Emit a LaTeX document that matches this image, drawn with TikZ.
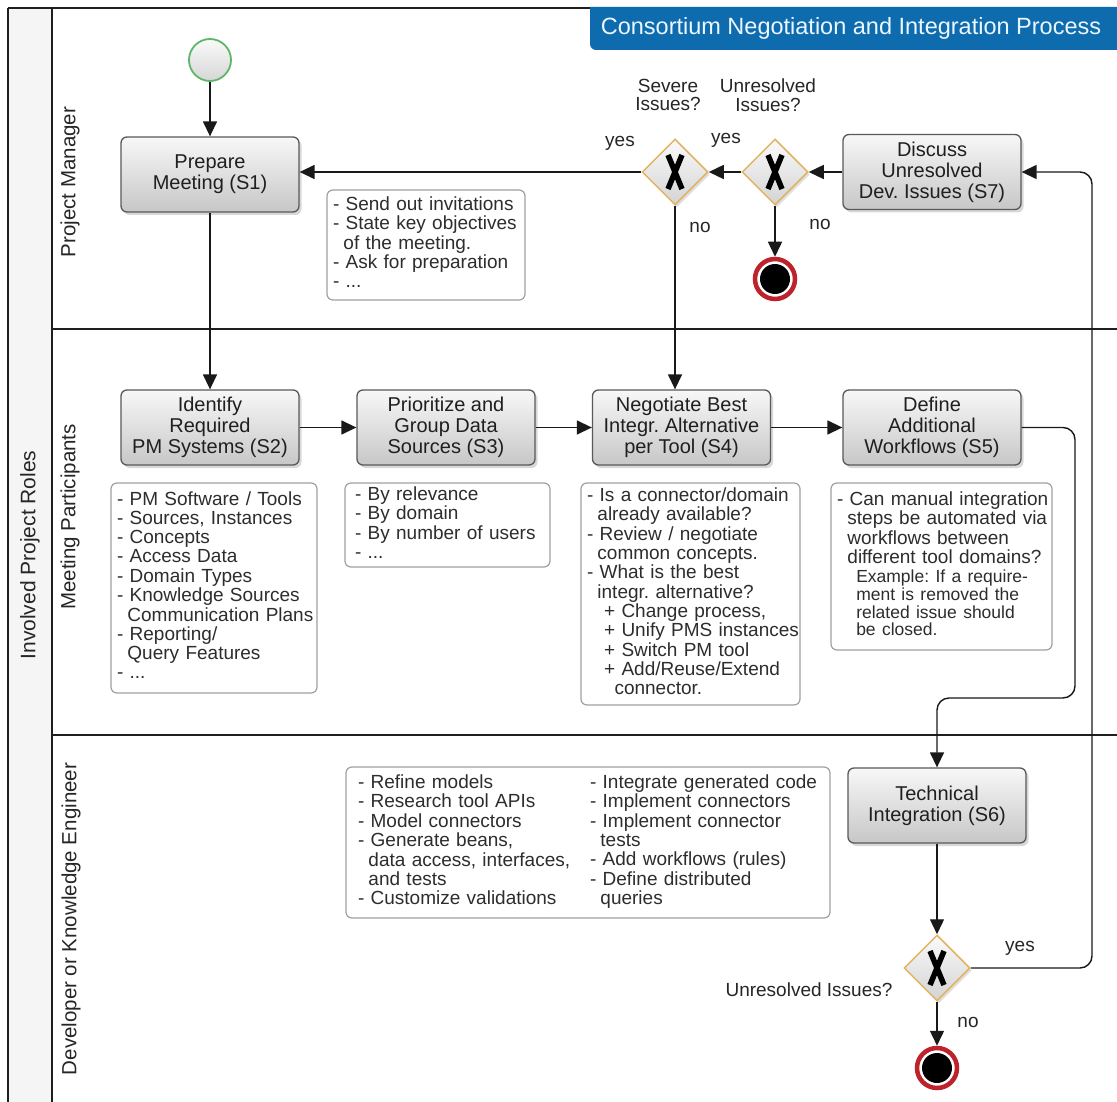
\documentclass[tikz,border=0pt]{standalone}
\usepackage{fontspec}
\setmainfont{Liberation Sans}
\usetikzlibrary{arrows.meta,shadows,shapes.geometric}

\definecolor{titleblue}{RGB}{14,108,174}
\definecolor{titletext}{RGB}{236,246,255}
\definecolor{gateedge}{RGB}{224,180,96}
\definecolor{startedge}{RGB}{96,182,104}
\definecolor{endedge}{RGB}{190,34,42}
\definecolor{noteedge}{RGB}{160,160,160}
\definecolor{notetext}{RGB}{45,45,45}
\definecolor{laneline}{RGB}{30,30,30}

\newcommand{\fsz}[2]{\fontsize{#1pt}{#2pt}\selectfont}
\newcommand{\cont}{\hspace*{0.55em}}
\newcommand{\subit}{\hspace*{0.9em}}
\newcommand{\exm}{\fsz{17.5}{17.5}\hspace*{1.1em}}

\frenchspacing

\begin{document}
\begin{tikzpicture}[x=1pt,y=-1pt,
  taskbox/.style={rectangle, rounded corners=6pt, draw=black!65, line width=1.3pt,
    top color=black!3, bottom color=black!22, minimum width=178pt, minimum height=75pt,
    align=center, font=\fsz{20}{21}, text=black!88, inner sep=2pt,
    drop shadow={opacity=0.3, shadow xshift=2.5pt, shadow yshift=-3pt}},
  notebox/.style={rectangle, rounded corners=6pt, draw=noteedge, line width=1.2pt,
    fill=white, align=left, font=\fsz{19}{19}, text=notetext, inner xsep=6pt, inner ysep=0pt},
  gatebox/.style={diamond, aspect=1, minimum width=66pt, minimum height=66pt, inner sep=0pt,
    draw=gateedge, line width=1.5pt, top color=black!2, bottom color=black!17,
    drop shadow={opacity=0.25, shadow xshift=2pt, shadow yshift=-2.5pt},
    path picture={\draw[line width=5.5pt, black, shift={(path picture bounding box.center)}]
      (-7,-17) -- (7,17) (7,-17) -- (-7,17);}},
  startev/.style={circle, minimum size=42pt, inner sep=0pt, draw=startedge, line width=1.8pt,
    top color=black!2, bottom color=black!16},
  endev/.style={circle, minimum size=40pt, inner sep=0pt, draw=endedge, line width=4.5pt,
    fill=white, drop shadow={opacity=0.25, shadow xshift=1.5pt, shadow yshift=-2pt},
    path picture={\fill[black] (path picture bounding box.center) circle[radius=15pt];}},
  flowline/.style={draw=black!90, line width=1.4pt, -{Triangle[length=15pt,width=14pt]}},
  lane/.style={draw=laneline, line width=1.4pt},
  lbl/.style={font=\fsz{19}{18.5}, text=black!85, align=center, inner sep=0pt},
  lanelabel/.style={rotate=90, font=\fsz{20.5}{22}, text=black!85, inner sep=0pt}
]
\useasboundingbox (0,0) rectangle (1117,1102);
\fill[white] (0,0) rectangle (1117,1102);

% pool and lanes
\fill[black!4] (8,8) rectangle (52,1102);
\draw[lane, line width=1.8pt] (8,8) -- (8,1102);
\draw[lane] (8,8) -- (1117,8);
\draw[lane] (52,8) -- (52,1102);
\draw[lane] (52,329) -- (1117,329);
\draw[lane] (52,735) -- (1117,735);

\node[lanelabel, font=\fsz{21}{22}] (pool) at (30,555) {Involved Project Roles};
\node[lanelabel] (lanepm) at (70,182) {Project Manager};
\node[lanelabel] (lanemp) at (70,517) {Meeting Participants};
\node[lanelabel] (lanedev) at (71,919) {Developer or Knowledge Engineer};

% title tab
\fill[titleblue] (590,7) -- (1117,7) -- (1117,50) -- (596,50)
  arc[start angle=90, end angle=180, radius=6] -- cycle;
\node[font=\fsz{23.5}{24}, text=titletext, inner sep=0pt] (title) at (851,28)
  {Consortium Negotiation and Integration Process};

% events
\node[startev] (start) at (210,60) {};
\node[endev] (end1) at (775,279) {};
\node[endev] (end2) at (937,1068) {};

% tasks
\node[taskbox] (s1) at (210,174.5) {Prepare\\Meeting (S1)};
\node[taskbox] (s2) at (210,427.5) {Identify\\Required\\PM Systems (S2)};
\node[taskbox] (s3) at (446,427.5) {Prioritize and\\Group Data\\Sources (S3)};
\node[taskbox] (s4) at (681.5,427.5) {Negotiate Best\\Integr. Alternative\\per Tool (S4)};
\node[taskbox] (s5) at (932,427.5) {Define\\Additional\\Workflows (S5)};
\node[taskbox] (s6) at (937,805.5) {Technical\\Integration (S6)};
\node[taskbox] (s7) at (932,172) {Discuss\\Unresolved\\Dev. Issues (S7)};

% gateways
\node[gatebox] (g1) at (675,172) {};
\node[gatebox] (g2) at (775,172) {};
\node[gatebox] (g3) at (937,968) {};

\node[lbl] (q1) at (668,95) {Severe\\Issues?};
\node[lbl] (q2) at (768,95) {Unresolved\\Issues?};
\node[lbl] (q3) at (809,990) {Unresolved Issues?};
\node[lbl] (yes1) at (620,143) {yes};
\node[lbl] (yes2) at (726,140) {yes};
\node[lbl] (yes3) at (1020,948) {yes};
\node[lbl] (no1) at (700,227) {no};
\node[lbl] (no2) at (820,224) {no};
\node[lbl] (no3) at (968,1022) {no};

% annotations
\node[notebox, text width=186pt, minimum height=110pt] (n1) at (426,245) {%
\begin{tabular}{@{}l@{}}
- Send out invitations\\
- State key objectives\\
\cont of the meeting.\\
- Ask for preparation\\
- ...
\end{tabular}};

\node[notebox, text width=194pt, minimum height=210pt] (n2) at (214,588) {%
\begin{tabular}{@{}l@{}}
- PM Software / Tools\\
- Sources, Instances\\
- Concepts\\
- Access Data\\
- Domain Types\\
- Knowledge Sources\\
\cont Communication Plans\\
- Reporting/\\
\cont Query Features\\
- ...
\end{tabular}};

\node[notebox, inner xsep=10pt, text width=185pt, minimum height=84pt] (n3) at (447.5,525) {%
\begin{tabular}{@{}l@{}}
- By relevance\\
- By domain\\
- By number of users\\
- ...
\end{tabular}};

\node[notebox, text width=207pt, minimum height=222pt] (n4) at (690.5,594) {%
\begin{tabular}{@{}l@{}}
- Is a connector/domain\\
\cont already available?\\
- Review / negotiate\\
\cont common concepts.\\
- What is the best\\
\cont integr. alternative?\\
\subit + Change process,\\
\subit + Unify PMS instances\\
\subit + Switch PM tool\\
\subit + Add/Reuse/Extend\\
\subit\cont connector.
\end{tabular}};

\node[notebox, text width=209pt, minimum height=167pt] (n5) at (941.5,566.5) {%
\begin{tabular}{@{}l@{}}
- Can manual integration\\
\cont steps be automated via\\
\cont workflows between\\
\cont different tool domains?\\
\exm Example: If a require-\\\noalign{\vskip-1.2pt}
\exm ment is removed the\\\noalign{\vskip-1.2pt}
\exm related issue should\\\noalign{\vskip-1.2pt}
\exm be closed.
\end{tabular}};

\node[notebox, inner xsep=12pt, text width=460pt, minimum height=151pt] (n6) at (588,842.5) {%
\makebox[232pt][l]{\begin{tabular}[t]{@{}l@{}}
- Refine models\\
- Research tool APIs\\
- Model connectors\\
- Generate beans,\\
\cont data access, interfaces,\\
\cont and tests\\
- Customize validations
\end{tabular}}%
\begin{tabular}[t]{@{}l@{}}
- Integrate generated code\\
- Implement connectors\\
- Implement connector\\
\cont tests\\
- Add workflows (rules)\\
- Define distributed\\
\cont queries
\end{tabular}};

% sequence flows
\coordinate (bendS5) at (1075,698);
\coordinate (bendG3) at (1092,172);

\draw[flowline] (start) -- (s1);
\draw[flowline] (s1) -- (s2);
\draw[flowline] (s2) -- (s3);
\draw[flowline] (s3) -- (s4);
\draw[flowline] (s4) -- (s5);
\draw[flowline] (s7) -- (g2);
\draw[flowline] (g2) -- (g1);
\draw[flowline] (g1.west) -- (g1.west -| s1.east);
\draw[flowline] (g1.south) -- (g1.south |- s4.north);
\draw[flowline] (g2.south) -- (end1);
\draw[flowline, rounded corners=12pt] (s5.east) -| (bendS5) -| (s6.north);
\draw[flowline] (s6) -- (g3);
\draw[flowline] (g3) -- (end2);
\draw[flowline, rounded corners=12pt] (g3.east) -| (bendG3) -- (s7.east);
\end{tikzpicture}
\end{document}
